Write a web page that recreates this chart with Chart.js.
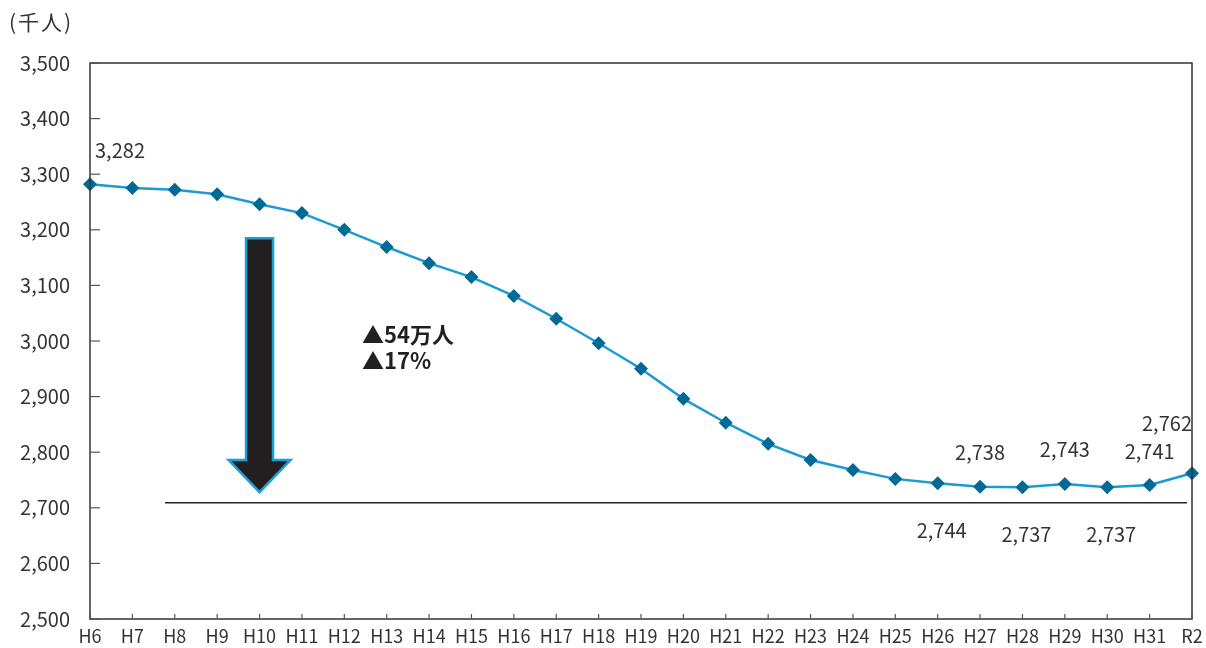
<!doctype html>
<html lang="ja">
<head>
    <meta charset="utf-8">
    <script src="https://cdn.jsdelivr.net/npm/chart.js@4"></script>
    <title>人口推移</title>
</head>
<body>
<div id="wrap">
    <canvas id="chart" width="1206" height="648"></canvas>
</div>
<script>
    // years (平成6年 .. 令和2年)
    const years = ['H6', 'H7', 'H8', 'H9', 'H10', 'H11', 'H12', 'H13', 'H14', 'H15', 'H16', 'H17', 'H18',
        'H19', 'H20', 'H21', 'H22', 'H23', 'H24', 'H25', 'H26', 'H27', 'H28', 'H29', 'H30', 'H31', 'R2'];
    // population, thousand people
    const population = [3282, 3275, 3272, 3264, 3246, 3230, 3200, 3169, 3140, 3115, 3081, 3040, 2996,
        2950, 2896, 2853, 2815, 2786, 2768, 2752, 2744, 2738, 2737, 2743, 2737, 2741, 2762];
    // which points get a value label, and on which side
    const labelAbove = ['H6', 'H27', 'H29', 'H31', 'R2'];
    const labelBelow = ['H26', 'H28', 'H30'];
    const yTicks = [2500, 2600, 2700, 2800, 2900, 3000, 3100, 3200, 3300, 3400, 3500];
    const unitText = '(千人)';
    const noteLines = ['▲54万人', '▲17%'];

    const FONT = '"Noto Sans CJK JP", "Noto Sans", sans-serif';
    const TEXT = '#333333';

    const fmt = v => v.toLocaleString('en-US');

    const decoration = {
        id: 'decoration',
        afterDraw(chart) {
            const ctx = chart.ctx;
            const a = chart.chartArea;
            const x = chart.scales.x;
            const y = chart.scales.y;
            ctx.save();

            // frame
            ctx.strokeStyle = '#333';
            ctx.lineWidth = 1.5;
            ctx.strokeRect(a.left, a.top, a.right - a.left, a.bottom - a.top);

            // inner tick marks
            ctx.lineWidth = 1.2;
            ctx.strokeStyle = '#555';
            yTicks.forEach(v => {
                const py = y.getPixelForValue(v);
                ctx.beginPath();
                ctx.moveTo(a.left, py);
                ctx.lineTo(a.left + 10, py);
                ctx.stroke();
            });
            years.forEach((c, i) => {
                const px = x.getPixelForValue(i);
                ctx.beginPath();
                ctx.moveTo(px, a.bottom);
                ctx.lineTo(px, a.bottom - 5);
                ctx.stroke();
            });

            // reference line
            ctx.strokeStyle = '#222';
            ctx.lineWidth = 1.5;
            ctx.beginPath();
            ctx.moveTo(x.getPixelForValue(1.77), y.getPixelForValue(2709));
            ctx.lineTo(x.getPixelForValue(25.88), y.getPixelForValue(2709));
            ctx.stroke();

            // down arrow
            const cx = x.getPixelForValue(4);
            const top = y.getPixelForValue(3185);
            const neck = y.getPixelForValue(2786);
            const tip = y.getPixelForValue(2728);
            ctx.beginPath();
            ctx.moveTo(cx - 13.5, top);
            ctx.lineTo(cx + 13.5, top);
            ctx.lineTo(cx + 13.5, neck);
            ctx.lineTo(cx + 31, neck);
            ctx.lineTo(cx, tip);
            ctx.lineTo(cx - 31, neck);
            ctx.lineTo(cx - 13.5, neck);
            ctx.closePath();
            ctx.fillStyle = '#231f20';
            ctx.fill();
            ctx.strokeStyle = '#1a9fd9';
            ctx.lineWidth = 2.5;
            ctx.stroke();

            // note
            ctx.fillStyle = '#231f20';
            ctx.font = 'bold 22px ' + FONT;
            ctx.textAlign = 'left';
            ctx.textBaseline = 'middle';
            ctx.fillText(noteLines[0], x.getPixelForValue(6.42), y.getPixelForValue(3012));
            ctx.fillText(noteLines[1], x.getPixelForValue(6.42), y.getPixelForValue(2964));

            // unit
            ctx.fillStyle = TEXT;
            ctx.font = '21px ' + FONT;
            ctx.letterSpacing = '2px';
            ctx.fillText(unitText, 9, 22);
            ctx.letterSpacing = '0px';

            // value labels
            ctx.font = '20px ' + FONT;
            ctx.textAlign = 'center';
            const meta = chart.getDatasetMeta(0);
            years.forEach((c, i) => {
                const pt = meta.data[i];
                let dx = 0;
                if (i === 0) dx = 30;
                if (i === years.length - 1) dx = -25;
                if (labelAbove.includes(c)) {
                    const dy = i === years.length - 1 ? -50 : -34;
                    ctx.fillText(fmt(population[i]), pt.x + dx, pt.y + dy);
                } else if (labelBelow.includes(c)) {
                    ctx.fillText(fmt(population[i]), pt.x + dx + 4, pt.y + 47);
                }
            });
            ctx.restore();
        }
    };

    const chart = new Chart(document.getElementById('chart'), {
        type: 'line',
        data: {
            labels: years,
            datasets: [{
                data: population,
                borderColor: '#1a9ad6',
                borderWidth: 2.5,
                pointStyle: 'rectRot',
                pointRadius: 7,
                pointBackgroundColor: '#006a95',
                pointBorderColor: '#006a95',
                pointBorderWidth: 0,
                tension: 0,
                clip: false
            }]
        },
        options: {
            responsive: false,
            animation: false,
            layout: {padding: {top: 63, right: 14, left: 0, bottom: 0}},
            plugins: {legend: {display: false}, tooltip: {enabled: false}},
            scales: {
                x: {
                    offset: false,
                    grid: {display: false, drawTicks: false},
                    border: {display: false},
                    ticks: {
                        color: TEXT, font: {family: FONT, size: 18}, padding: 6,
                        maxRotation: 0, autoSkip: false
                    },
                    afterFit(s) {
                        s.height = 29;
                        s.paddingLeft = 0;
                        s.paddingRight = 0;
                    }
                },
                y: {
                    min: 2500,
                    max: 3500,
                    grid: {display: false, drawTicks: false},
                    border: {display: false},
                    ticks: {
                        stepSize: 100, color: TEXT, font: {family: FONT, size: 20}, padding: 20,
                        callback: v => fmt(v)
                    },
                    afterFit(s) {
                        s.width = 90;
                        s.paddingTop = 0;
                        s.paddingBottom = 0;
                    }
                }
            }
        },
        plugins: [decoration]
    });
</script>
<style>
    body {
        margin: 0;
        background: #fff;
    }

    #wrap {
        width: 1206px;
        height: 648px;
    }
</style>
</body>
</html>
